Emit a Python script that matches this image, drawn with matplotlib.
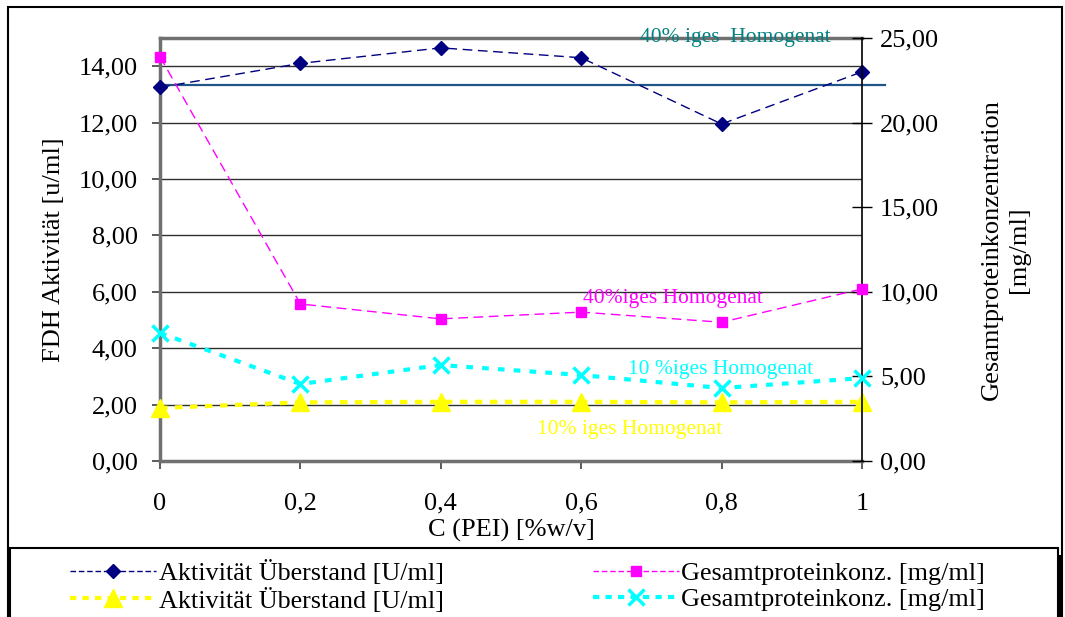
import numpy as np
import matplotlib
matplotlib.use("Agg")
import matplotlib.pyplot as plt
from matplotlib.patches import Rectangle
from matplotlib.lines import Line2D

plt.rcParams['font.family'] = ['Liberation Serif', 'DejaVu Serif']

# data
pei = [0, 0.2, 0.4, 0.6, 0.8, 1.0]
akt_40 = [13.25, 14.1, 14.65, 14.3, 11.95, 13.8]      # left axis, U/ml
akt_10 = [1.88, 2.08, 2.1, 2.1, 2.08, 2.1]            # left axis, U/ml
prot_40 = [23.9, 9.28, 8.4, 8.8, 8.2, 10.17]          # right axis, mg/ml
prot_10 = [7.57, 4.55, 5.67, 5.08, 4.31, 4.9]         # right axis, mg/ml
ref_akt_40 = 13.33                                    # activity of 40% homogenate

left_ticks = [0, 2, 4, 6, 8, 10, 12, 14]
right_ticks = [0, 5, 10, 15, 20, 25]
x_ticks = [0, 0.2, 0.4, 0.6, 0.8, 1.0]
x_labels = ['0', '0,2', '0,4', '0,6', '0,8', '1']
akt_label = 'Aktivität Überstand [U/ml]'
prot_label = 'Gesamtproteinkonz. [mg/ml]'

W, H = 1065, 617
fig = plt.figure(figsize=(W / 100, H / 100), dpi=100)

# pixel coords -> figure fraction
def fx(px):
    return px / W

def fy(py):
    return 1 - py / H

# outer frame, legend frame, dark bar at the right of the legend
fig.patches.append(Rectangle((fx(8), fy(640)), fx(1062) - fx(8), fy(7) - fy(640),
                             transform=fig.transFigure, fill=False, ec='black', lw=1.5))
fig.patches.append(Rectangle((fx(10), fy(640)), fx(1058) - fx(10), fy(548) - fy(640),
                             transform=fig.transFigure, fill=False, ec='black', lw=1.5))
fig.patches.append(Rectangle((fx(1057), fy(640)), fx(1063) - fx(1057), fy(555) - fy(640),
                             transform=fig.transFigure, fc='black', ec='none'))

ax = fig.add_axes([fx(160), fy(461), fx(862) - fx(160), fy(38) - fy(461)])
ax.set_xlim(0, 1)
ax.set_ylim(0, 15)
ax2 = ax.twinx()
ax2.set_ylim(0, 25)

# grid lines
for v in left_ticks[1:]:
    ax.axhline(v, color='#303030', lw=1, zorder=0)

# reference line for 40% homogenate activity
ax.axhline(ref_akt_40, xmin=0, xmax=1.033, color='#1f5588', lw=1.6, clip_on=False, zorder=1)

ax.plot(pei, akt_40, color='#000080', lw=1, dashes=(7, 4), marker='D', ms=7,
        clip_on=False, zorder=5)
ax.plot(pei, akt_10, color='#ffff00', lw=3, dashes=(1.8, 1.8), marker='^', ms=13,
        clip_on=False, zorder=5)
ax2.plot(pei, prot_40, color='#ff00ff', lw=1, dashes=(7, 4), marker='s', ms=7,
         clip_on=False, zorder=5)
ax2.plot(pei, prot_10, color='#00ffff', lw=3, dashes=(1.6, 2.2), marker='x', ms=12, mew=2.5,
         clip_on=False, zorder=5)

# annotations
ax.text(0.684, 15.03, '40% iges  Homogenat', color='#008080', fontsize=15.5, ha='left', va='center')
ax.text(0.603, 5.78, '40%iges Homogenat', color='#ff00ff', fontsize=15.5, ha='left', va='center')
ax.text(0.667, 3.23, '10 %iges Homogenat', color='#00ffff', fontsize=15.5, ha='left', va='center')
ax.text(0.537, 1.10, '10% iges Homogenat', color='#ffff00', fontsize=15.5, ha='left', va='center')

# spines
for s in ['left', 'bottom', 'top']:
    ax.spines[s].set_color('#707070')
    ax.spines[s].set_linewidth(2.5)
ax.spines['right'].set_visible(False)
for s in ['left', 'bottom', 'top']:
    ax2.spines[s].set_visible(False)
ax2.spines['right'].set_color('black')
ax2.spines['right'].set_linewidth(1.2)

ax.set_yticks(left_ticks)
ax.set_yticklabels([f'{v:.2f}'.replace('.', ',') for v in left_ticks])
ax.set_xticks(x_ticks)
ax.set_xticklabels(x_labels)
ax.tick_params(axis='y', length=6, width=1.2, color='#404040', pad=10, labelsize=19)
ax.tick_params(axis='x', length=6, width=1.2, color='#404040', pad=17, labelsize=19)
ax2.set_yticks(right_ticks)
ax2.set_yticklabels([f'{v:.2f}'.replace('.', ',') for v in right_ticks])
ax2.tick_params(axis='y', direction='inout', length=14, width=1, pad=6, labelsize=19)

ax.set_ylabel('FDH Aktivität [u/ml]', fontsize=19, labelpad=10)
ax.set_xlabel('C (PEI) [%w/v]', fontsize=19, labelpad=3)
ax2.set_ylabel('Gesamtproteinkonzentration\n[mg/ml]', fontsize=19, labelpad=30,
               rotation=90, linespacing=1.3)

# legend: column-major fill, so order gives rows navy|magenta, yellow|cyan
handles = [
    Line2D([], [], color='#000080', lw=1, dashes=(4, 2), marker='D', ms=7),
    Line2D([], [], color='#ffff00', lw=3, dashes=(1.5, 1.5), marker='^', ms=13),
    Line2D([], [], color='#ff00ff', lw=1, dashes=(4, 2), marker='s', ms=7),
    Line2D([], [], color='#00ffff', lw=3, dashes=(1.5, 1.5), marker='x', ms=12, mew=2.5),
]
labels = [akt_label, akt_label, prot_label, prot_label]
fig.legend(handles, labels, ncol=2, loc='upper left', bbox_to_anchor=(fx(70), fy(560)),
           frameon=False, borderpad=0, borderaxespad=0, fontsize=18.8, handlelength=3.3,
           handletextpad=0.1, columnspacing=5.7, labelspacing=0.1)

fig.savefig('out.png', dpi=100)
